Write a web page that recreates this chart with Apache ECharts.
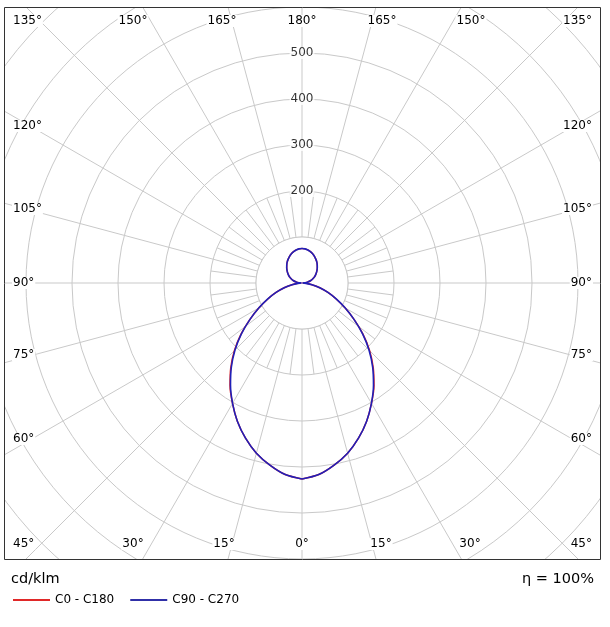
<!DOCTYPE html>
<html><head><meta charset="utf-8">
<script src="https://cdn.jsdelivr.net/npm/echarts@6/dist/echarts.min.js"></script>
<style>html,body{margin:0;padding:0;background:#fff}#c{width:610px;height:627px}</style>
</head><body><div id="c"></div>
<script>
// ---- data ----
const gammaAngles = [0,5,10,15,20,25,30,35,40,45,50,55,60,65,70,75,80,85,90,95,100,105,110,115,120,125,130,135,140,145,150,155,160,165,170,175,180];
const c0c180  = [426,418,402,383,359,332,302,273,241,208,173,138,108,82,60,40,22,9,2,7,13,19,24,29,33.5,38,42.5,47,51.5,56,60,64,67.5,70.5,73,74.5,75];
const c90c270 = [426,418,402,383,359,332,302,271,239,206,172,138,108,82,60,40,22,9,2,7,13,19,24,29,33.5,38,42.5,47,51.5,56,60,64,67.5,70.5,73,74.5,75];
const ringLabels = [200,300,400,500];
const innerRing = 100;
const innerSpokeEnd = 200;
const topLabels = ['135°','150°','165°','180°','165°','150°','135°'];
const bottomLabels = ['45°','30°','15°','0°','15°','30°','45°'];
const sideLabels = ['120°','105°','90°','75°','60°'];
const seriesNames = ['C0 - C180','C90 - C270'];
const unitText = 'cd/klm';
const etaText = 'η = 100%';

// ---- build ----
function fullCurve(vals){
  const pts = [];
  for (let i = 0; i < gammaAngles.length; i++) pts.push([vals[i], gammaAngles[i]]);
  for (let i = gammaAngles.length - 2; i >= 0; i--) pts.push([vals[i], 360 - gammaAngles[i]]);
  return pts;
}
const diskPts = [];
for (let a = 0; a <= 360; a += 5) diskPts.push([innerRing, a]);

const FONT = '"DejaVu Sans", Verdana, sans-serif';
const gridCol = '#c9c9c9';
const txtCol = '#000';

// intermediate spokes (every 7.5° between the 15° ones) from ring 100 to ring 200
const spokeSeries = [];
for (let a = 7.5; a < 360; a += 15) {
  spokeSeries.push({type:'line', coordinateSystem:'polar', data:[[innerRing, a],[innerSpokeEnd, a]],
    symbol:'none', silent:true, z:2, lineStyle:{color:gridCol, width:1}});
}

const texts = [];
function addText(t, x, y, align, size){
  texts.push({type:'text', z:120, silent:true,
    style:{text:t, x:x, y:y, font: (size||12)+'px ' + FONT, fill:txtCol,
      align:align, textAlign:align, verticalAlign:'middle', textVerticalAlign:'middle',
      backgroundColor:'#fff', padding:[0,1]}});
}
const topX = [12,133,222,302,382,471,593];
const botX = [12,133,224,302,381,470,593];
topLabels.forEach((t,i)=>addText(t, topX[i], 21, i===0?'left':(i===6?'right':'center')));
bottomLabels.forEach((t,i)=>addText(t, botX[i], 544, i===0?'left':(i===6?'right':'center')));
const sideY = [126,209,283,355,439];
sideLabels.forEach((t,i)=>{ addText(t, 12, sideY[i], 'left'); addText(t, 593, sideY[i], 'right'); });

const chart = echarts.init(document.getElementById('c'), null, {renderer:'canvas'});
chart.setOption({
  animation:false,
  backgroundColor:'#fff',
  polar:{center:[302,283], radius:414},
  angleAxis:{type:'value', min:0, max:360, interval:15, startAngle:270, clockwise:false,
    axisLine:{show:false}, axisTick:{show:false}, axisLabel:{show:false},
    splitLine:{show:true, lineStyle:{color:gridCol, width:1}}},
  radiusAxis:{type:'value', min:0, max:900, interval:100,
    axisLine:{show:false}, axisTick:{show:false}, axisLabel:{show:false},
    splitLine:{show:true, lineStyle:{color:gridCol, width:1}}},
  legend:{show:true, z:200, left:8, top:589, icon:'rect', itemWidth:37, itemHeight:2, itemGap:16,
    data:seriesNames, textStyle:{fontFamily:FONT, fontSize:12, color:txtCol}},
  series:[
    {type:'line', coordinateSystem:'polar', data:diskPts, symbol:'none', silent:true, z:1,
      lineStyle:{color:gridCol, width:1}, areaStyle:{color:'#fff', opacity:1}},
    {name:seriesNames[0], type:'line', coordinateSystem:'polar', data:fullCurve(c0c180), symbol:'none', smooth:0.3, z:3,
      lineStyle:{color:'#e02828', width:1.5}, itemStyle:{color:'#e02828'}},
    {name:seriesNames[1], type:'line', coordinateSystem:'polar', data:fullCurve(c90c270), symbol:'none', smooth:0.3, z:4,
      lineStyle:{color:'#2020b8', width:1.6}, itemStyle:{color:'#3030a8'}},
    {type:'scatter', coordinateSystem:'polar', data:ringLabels.map(v=>[v,180]), symbolSize:0, silent:true, z:5,
      label:{show:true, position:'inside', formatter:p=>String(p.value[0]), fontFamily:FONT, fontSize:12, color:txtCol,
        backgroundColor:'#fff', padding:[0,1]}}
  ].concat(spokeSeries),
  graphic:{elements:[
    {type:'rect', z:100, silent:true, shape:{x:0,y:0,width:610,height:7}, style:{fill:'#fff'}},
    {type:'rect', z:100, silent:true, shape:{x:0,y:0,width:4,height:627}, style:{fill:'#fff'}},
    {type:'rect', z:100, silent:true, shape:{x:601,y:0,width:9,height:627}, style:{fill:'#fff'}},
    {type:'rect', z:100, silent:true, shape:{x:0,y:560,width:610,height:67}, style:{fill:'#fff'}},
    {type:'rect', z:110, silent:true, shape:{x:4.5,y:7.5,width:596,height:552}, style:{fill:null, stroke:'#333', lineWidth:1}},
    {type:'text', z:120, silent:true, style:{text:unitText, x:11, y:579, font:'14.5px '+FONT, fill:txtCol, verticalAlign:'middle', textVerticalAlign:'middle'}},
    {type:'text', z:120, silent:true, style:{text:etaText, x:594, y:579, font:'14.5px '+FONT, fill:txtCol, align:'right', textAlign:'right', verticalAlign:'middle', textVerticalAlign:'middle'}}
  ].concat(texts)}
});
</script></body></html>
